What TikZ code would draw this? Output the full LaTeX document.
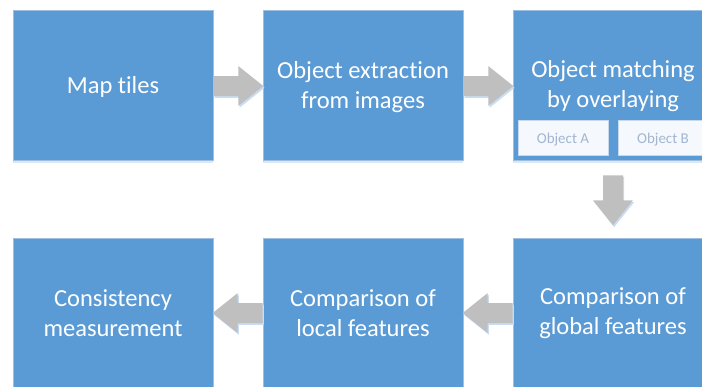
\documentclass[tikz,border=0pt]{standalone}
\usepackage{fontspec}
\setmainfont[RawFeature=-liga]{Carlito}
\usetikzlibrary{shadows,calc}
\definecolor{boxblue}{HTML}{5B9BD5}
\definecolor{boxedge}{HTML}{9FBFE0}
\definecolor{boxshadow}{HTML}{DCE7F4}
\definecolor{arrowgray}{HTML}{BFBFBF}
\definecolor{arrowshadow}{HTML}{C9DCF1}
\definecolor{subfill}{HTML}{F5F8FC}
\definecolor{subedge}{HTML}{C9D7EA}
\definecolor{subtext}{HTML}{A3B6D1}
\tikzset{
  stepbox/.style={rectangle, fill=boxblue, draw=boxedge, line width=0.6pt,
    minimum width=200pt, minimum height=150pt, inner sep=0pt,
    text=white, align=center,
    font=\fontsize{24.5pt}{30pt}\selectfont,
    drop shadow={shadow xshift=0pt, shadow yshift=-3pt, fill=boxshadow, opacity=1}},
  boxtext/.style={text=white, align=center, inner sep=0pt,
    font=\fontsize{24.5pt}{30pt}\selectfont},
  subbox/.style={rectangle, fill=subfill, draw=subedge, line width=0.6pt,
    minimum width=90pt, minimum height=35pt, inner sep=0pt,
    text=subtext, font=\fontsize{15pt}{18pt}\selectfont},
  flowarrow/.pic={
    \path[pic actions] (0,-10) -- (25,-10) -- (25,-20) -- (50,0) -- (25,20) -- (25,10) -- (0,10) -- cycle;
  },
  arrowbody/.style={fill=arrowgray, draw=none},
  arrowshade/.style={fill=arrowshadow, draw=none}
}
\begin{document}
\begin{tikzpicture}[x=1pt,y=-1pt]
\useasboundingbox (0,0) rectangle (702,386);
\node[stepbox] (b1) at (113,85) {};
\node[boxtext] (b1t) at ($(b1)+(0,2)$) {Map tiles};
\node[stepbox] (b2) at (363,85) {};
\node[boxtext] (b2t) at ($(b2)+(0,2)$) {Object extraction\\from images};
\node[stepbox] (b3) at (613,85) {};
\node[boxtext] (b3t) at ($(b3)+(0,1)$) {Object matching\\by overlaying};
\node[subbox] (sa) at (563,138) {};
\node[text=subtext, font=\fontsize{15pt}{18pt}\selectfont] (sat) at ($(sa)+(0,1.5)$) {Object A};
\node[subbox] (sb) at (663,138) {};
\node[text=subtext, font=\fontsize{15pt}{18pt}\selectfont] (sbt) at ($(sb)+(0,1.5)$) {Object B};
\node[stepbox] (b4) at (113,313) {Consistency\\measurement};
\node[stepbox] (b5) at (363,313) {Comparison of\\local features};
\node[stepbox] (b6) at (613,313) {};
\node[boxtext] (b6t) at ($(b6)+(0,0.5)$) {Comparison of\\global features};
% arrows: shadow first, then body
\pic[arrowshade] at ($(b1.east)+(1.2,2.8)$) {flowarrow};
\pic[arrowbody] (a1) at ($(b1.east)+(0,1)$) {flowarrow};
\pic[arrowshade] at ($(b2.east)+(1.2,2.8)$) {flowarrow};
\pic[arrowbody] (a2) at ($(b2.east)+(0,1)$) {flowarrow};
\pic[arrowshade, rotate=-90] at ($(b3.south)+(1.2,16.8)$) {flowarrow};
\pic[arrowbody, rotate=-90] (a3) at ($(b3.south)+(0,15)$) {flowarrow};
\pic[arrowshade, rotate=180] at ($(b6.west)+(1.2,1.8)$) {flowarrow};
\pic[arrowbody, rotate=180] (a4) at (b6.west) {flowarrow};
\pic[arrowshade, rotate=180] at ($(b5.west)+(1.2,1.8)$) {flowarrow};
\pic[arrowbody, rotate=180] (a5) at (b5.west) {flowarrow};
\end{tikzpicture}
\end{document}
